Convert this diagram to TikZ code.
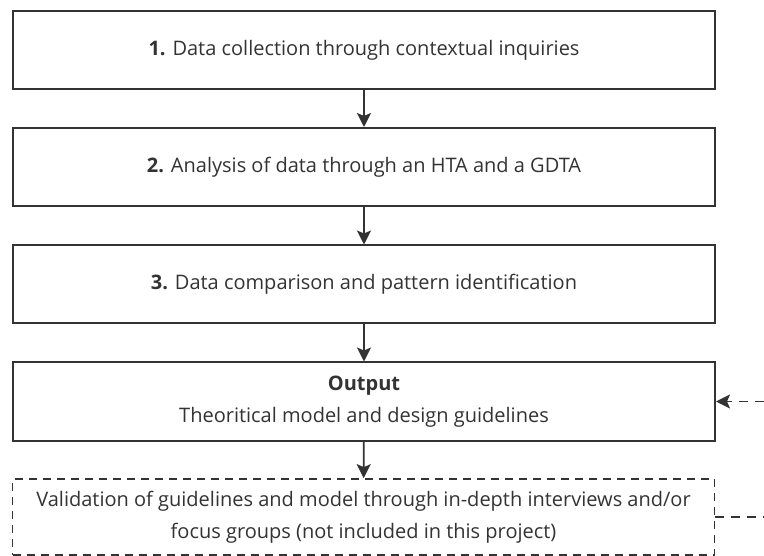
\documentclass[tikz,border=0pt]{standalone}
\usepackage{fontspec}
\setmainfont{Open Sans}
\usetikzlibrary{arrows.meta}
\definecolor{ink}{HTML}{333333}
\begin{document}
\begin{tikzpicture}[x=1pt,y=-1pt,
  stepbox/.style={draw=ink, line width=2pt, minimum width=702pt, minimum height=78pt,
    inner sep=0pt, text=ink, align=center, font=\fontsize{20}{28}\selectfont},
  optbox/.style={stepbox, dash pattern=on 8pt off 6pt, line width=1.7pt, minimum height=76pt},
  flow/.style={draw=ink, line width=1.7pt, -{Stealth[length=14pt,width=14pt,inset=3pt]}},
  feedback/.style={draw=ink, line width=1.7pt, dash pattern=on 9pt off 7pt}
]
\useasboundingbox (0,0) rectangle (764,556);
\node[stepbox] (s1) at (364,50) {\textbf{1.} Data collection through contextual inquiries};
\node[stepbox] (s2) at (364,167) {\textbf{2.} Analysis of data through an HTA and a GDTA};
\node[stepbox] (s3) at (364,284.5) {\textbf{3.} Data comparison and pattern identification};
\node[stepbox] (out) at (364,401.5) {\textbf{Output}\\[4pt]Theoritical model and design guidelines};
\node[optbox] (val) at (363.5,517) {Validation of guidelines and model through in-depth interviews and/or\\[4pt]focus groups (not included in this project)};
\coordinate (fbin) at (764,401.5);
\coordinate (fbout) at (764,517);
\draw[flow] (s1) -- (s2);
\draw[flow] (s2) -- (s3);
\draw[flow] (s3) -- (out);
\draw[flow] (out) -- (val);
\draw[feedback] (val.east) -- (fbout);
\draw[feedback, -{Stealth[length=14pt,width=14pt,inset=3pt]}] (fbin) -- (out.east);
\end{tikzpicture}
\end{document}
